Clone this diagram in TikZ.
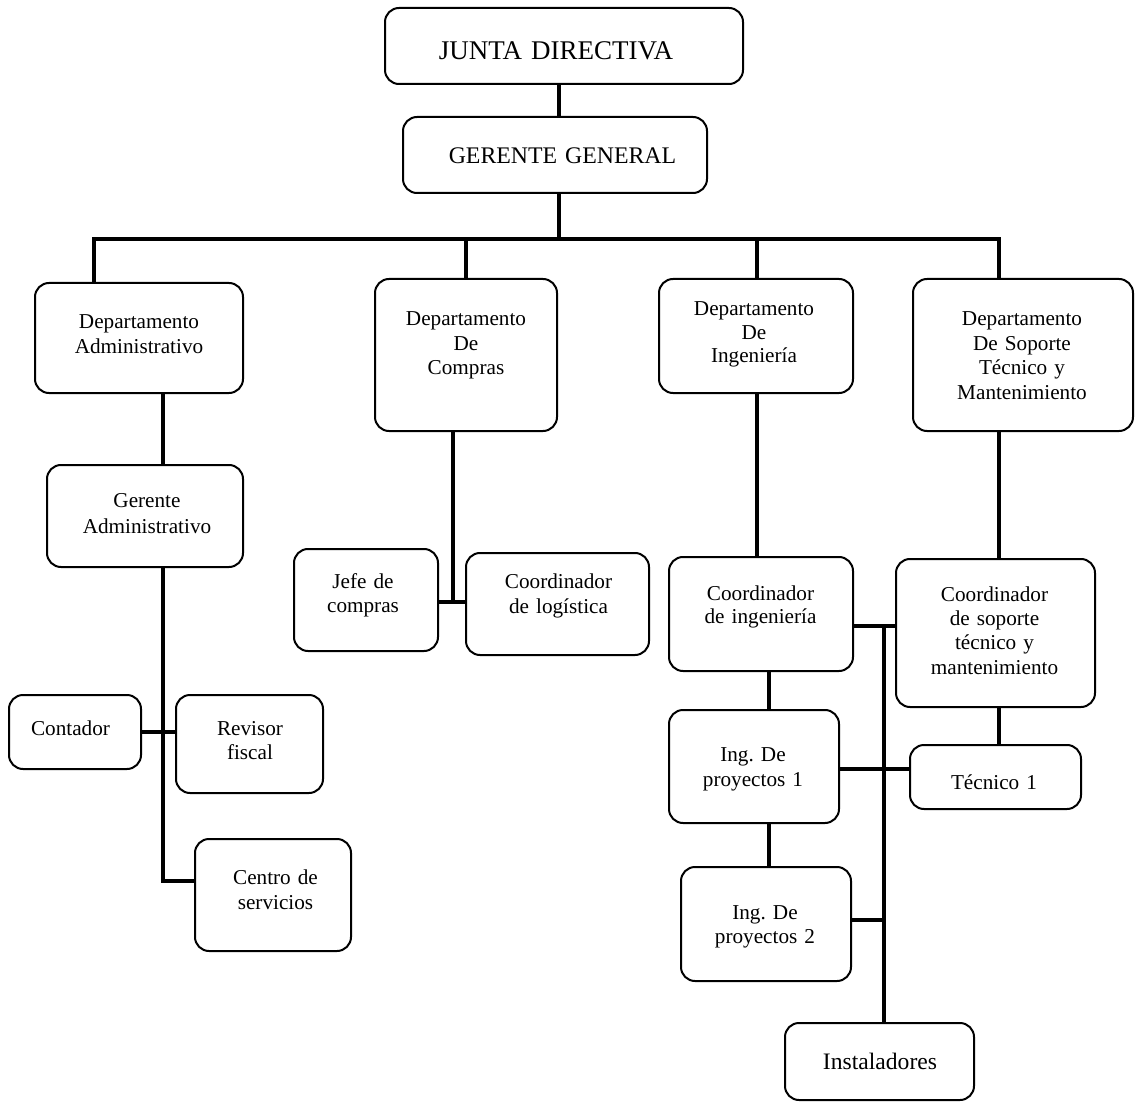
\documentclass[tikz,border=0pt]{standalone}
\usepackage{fontspec}
\setmainfont{Liberation Serif}
\frenchspacing
\begin{document}
\begin{tikzpicture}[x=1pt,y=-1pt,
  box/.style={draw, line width=2pt, rounded corners=14pt, inner sep=0pt, outer sep=0pt},
  conn/.style={line width=3.2pt},
  busline/.style={line width=4pt},
  txt/.style={inner sep=0pt, align=center, anchor=base, text width=230pt,
              font=\fontsize{21.2}{24.5}\selectfont},
  big/.style={text width=340pt, font=\fontsize{27}{31}\selectfont},
  mid/.style={text width=300pt, font=\fontsize{23.8}{28}\selectfont}]
\useasboundingbox (0,0) rectangle (1136,1102);

% ---- boxes ----
\node[box, minimum width=358pt, minimum height=76pt]  (junta)  at (564,46)    {};
\node[box, minimum width=304pt, minimum height=76pt]  (gg)     at (555,155)   {};
\node[box, minimum width=208pt, minimum height=110pt] (dadm)   at (139,338)   {};
\node[box, minimum width=182pt, minimum height=152pt] (dcomp)  at (466,355)   {};
\node[box, minimum width=194pt, minimum height=114pt] (ding)   at (756,336)   {};
\node[box, minimum width=220pt, minimum height=152pt] (dsop)   at (1023,355)  {};
\node[box, minimum width=196pt, minimum height=102pt] (gadm)   at (145,516)   {};
\node[box, minimum width=144pt, minimum height=102pt] (jefe)   at (366,600)   {};
\node[box, minimum width=183pt, minimum height=102pt] (clog)   at (557.5,604) {};
\node[box, minimum width=184pt, minimum height=114pt] (cing)   at (761,614)   {};
\node[box, minimum width=199pt, minimum height=148pt] (csop)   at (995.5,633) {};
\node[box, minimum width=170pt, minimum height=113pt] (ipa)    at (754,766.5) {};
\node[box, minimum width=171pt, minimum height=64pt]  (tec)    at (995.5,777) {};
\node[box, minimum width=170pt, minimum height=114pt] (ipb)    at (766,924)   {};
\node[box, minimum width=189pt, minimum height=77pt]  (inst)   at (879.5,1061.5) {};
\node[box, minimum width=132pt, minimum height=74pt]  (cont)   at (75,732)    {};
\node[box, minimum width=147pt, minimum height=98pt]  (rev)    at (249.5,744) {};
\node[box, minimum width=156pt, minimum height=112pt] (centro) at (273,895)   {};

% ---- texts ----
\node[txt, big] (tjunta) at (556,60) {JUNTA DIRECTIVA};
\node[txt, mid] (tgg) at (562.5,164) {GERENTE GENERAL};
\node[txt] (tdadm) at (139,329) {Departamento\\Administrativo};
\node[txt] (tdcomp) at (466,326) {Departamento\\De\\Compras};
\node[txt, font=\fontsize{21.2}{23.2}\selectfont] (tding) at (754,316) {Departamento\\De\\Ingeniería};
\node[txt] (tdsop) at (1022,326) {Departamento\\De Soporte\\Técnico y\\Mantenimiento};
\node[txt, font=\fontsize{21.2}{26}\selectfont] (tgadm) at (147,507.5) {Gerente\\Administrativo};
\node[txt] (tjefe) at (363,588) {Jefe de\\compras};
\node[txt] (tclog) at (558.5,588.5) {Coordinador\\de logística};
\node[txt, font=\fontsize{21.2}{23.5}\selectfont] (tcing) at (760.5,600) {Coordinador\\de ingeniería};
\node[txt, font=\fontsize{21.2}{24.2}\selectfont] (tcsop) at (994.5,601.5) {Coordinador\\de soporte\\técnico y\\mantenimiento};
\node[txt] (tipa) at (753,761.5) {Ing. De\\proyectos 1};
\node[txt] (ttec) at (994,789) {Técnico 1};
\node[txt] (tipb) at (765,919) {Ing. De\\proyectos 2};
\node[txt, font=\fontsize{23.6}{28}\selectfont] (tinst) at (880,1069) {Instaladores};
\node[txt] (tcont) at (70.5,735) {Contador};
\node[txt] (trev) at (250,735) {Revisor\\fiscal};
\node[txt] (tcentro) at (275.5,884.5) {Centro de\\servicios};

% ---- helper coordinates ----
\coordinate (gx)   at (559,239);
\coordinate (busL) at (94,239);
\coordinate (busR) at (999,239);
\coordinate (bc)   at (466,239);
\coordinate (bi)   at (757,239);
\coordinate (ax)   at (163,732);
\coordinate (ay)   at (163,881);
\coordinate (cx)   at (453,602);
\coordinate (ix)   at (769,700);
\coordinate (vx)   at (884,626);
\coordinate (hx)   at (884,769);
\coordinate (jx)   at (884,920);

% ---- connectors ----
\draw[conn] (junta.south -| gx) -- (gg.north -| gx);
\draw[conn] (gg.south -| gx) -- (gx);
\draw[busline] (dadm.north -| busL) -- (busL) -- (busR) -- (dsop.north -| busR);
\draw[conn] (bc) -- (dcomp.north -| bc);
\draw[conn] (bi) -- (ding.north -| bi);

% administrativo
\draw[conn] (dadm.south -| ax) -- (gadm.north -| ax);
\draw[conn] (gadm.south -| ax) -- (ay) -- (centro.west |- ay);
\draw[conn] (cont.east |- ax) -- (rev.west |- ax);

% compras
\draw[conn] (dcomp.south -| cx) -- (cx);
\draw[conn] (jefe.east |- cx) -- (clog.west |- cx);

% ingenieria
\draw[conn] (ding.south -| bi) -- (cing.north -| bi);
\draw[conn] (cing.south -| ix) -- (ipa.north -| ix);
\draw[conn] (ipa.south -| ix) -- (ipb.north -| ix);
\draw[conn] (cing.east |- vx) -- (csop.west |- vx);
\draw[conn] (vx) -- (inst.north -| vx);
\draw[conn] (ipa.east |- hx) -- (tec.west |- hx);
\draw[conn] (ipb.east |- jx) -- (jx);

% soporte
\draw[conn] (dsop.south -| busR) -- (csop.north -| busR);
\draw[conn] (csop.south -| busR) -- (tec.north -| busR);
\end{tikzpicture}
\end{document}
